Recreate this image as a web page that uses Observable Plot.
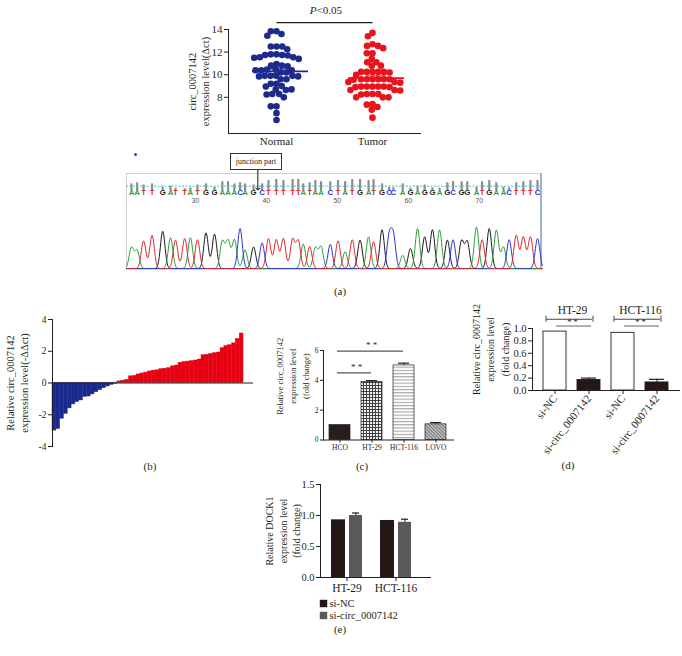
<!DOCTYPE html>
<html><head><meta charset="utf-8">
<script src="https://cdn.jsdelivr.net/npm/d3@7"></script>
<script src="https://cdn.jsdelivr.net/npm/@observablehq/plot@0.6"></script>
<style>
html,body{margin:0;padding:0;background:#fff;}
#root{position:relative;width:682px;height:656px;background:#fff;overflow:hidden;font-family:"Liberation Serif","Times New Roman",serif;color:#231f20;}
</style></head>
<body><div id="root"></div>
<script>
// ---------------- DATA ----------------
// (a) scatter: circ_0007142 expression level (Δct)
const scatterGroups = ["Normal", "Tumor"];
const normalValues = [13.85,13.85,13.6,13.45,12.5,12.5,12.5,12.25,11.8,11.8,11.75,11.75,11.7,
  11.55,11.55,11.5,11.4,10.95,10.8,10.8,10.75,10.45,10.45,10.4,10.4,10.4,10.2,10.2,
  9.9,9.9,9.9,9.9,9.85,9.85,9.6,9.6,9.2,9.2,9.0,8.95,8.7,8.65,8.7,8.3,8.3,8.25,8.0,7.2,7.2,6.6,6.0];
const tumorValues = [13.7,13.4,12.7,12.55,12.55,12.35,11.9,11.9,11.4,11.1,11.1,10.8,10.8,
  10.25,10.25,10.25,10.25,10.25,10.2,10.0,9.6,9.6,9.6,9.6,9.6,9.6,9.55,9.35,9.35,9.3,
  8.95,8.95,8.95,8.95,8.95,8.9,8.9,8.65,8.65,8.6,8.3,8.3,8.3,8.25,8.0,8.0,8.0,7.4,7.35,7.15,6.9,6.2];
const groupMeans = [10.3, 9.7];
const groupSEM = [0.2, 0.2];
const scatterColors = ["#1d2a8c", "#e8141c"];
const scatterTicks = [8, 10, 12, 14];
const scatterDomain = [4.8, 14];
const pValue = [{from: "Normal", to: "Tumor", y: 14.6, p: "P", rest: "<0.05"}];

// (a) Sanger chromatogram
const seqBases = "AATTGATTATGGAAACAGCTTTTTATAACTATGATGCCAGAGGAGCGGATGAACTTTC".split("");
const seqPositions = [21.0,21.8,22.7,23.9,25.4,26.5,27.2,28.5,29.3,30.3,
  31.5,32.7,33.8,34.6,35.5,36.3,37.0,38.2,39.4,40.3,
  41.4,42.4,43.7,44.5,45.2,46.1,46.9,47.7,49.0,50.1,
  51.1,52.1,53.2,54.4,55.1,56.3,57.3,57.9,59.2,60.3,
  61.3,62.3,63.4,64.4,65.5,66.3,67.5,68.3,69.6,70.4,
  71.4,72.4,73.4,74.2,75.2,76.2,77.2,78.2];
const peakHeights = [.52,.45,.69,.83,.93,.77,.71,.75,.77,.72,
  .89,.86,.68,.69,.72,1.0,.46,.54,.64,.75,
  .72,.75,.73,.69,.61,.55,.52,.54,.6,.69,
  .42,.72,.71,.79,.67,.97,.79,.79,.33,.5,
  1.0,.79,.97,.96,.71,.72,.69,.67,1.04,.72,
  1.0,.96,.54,.72,.83,.79,.79,.75];
const baseQuality = [30,35,25,30,15,20,10,8,12,25,
  30,15,40,40,30,35,30,25,30,45,
  50,45,50,50,30,35,45,40,40,45,
  40,50,50,45,50,30,15,12,30,10,
  20,25,12,10,35,40,40,40,15,40,
  45,35,15,12,35,40,45,45];
const qualityThreshold = 20;
const seqTicks = [30, 40, 50, 60, 70];
const traceDomain = [20.3, 78.9];
const junctionPosition = 38.8;
const junctionLabel = "junction part";
const baseColors = {A: "#2e9e3a", C: "#2b35d6", G: "#1a1a1a", T: "#e4262b"};

// (b) waterfall of -ΔΔct
const lowValues = [-3.0,-2.9,-2.25,-1.95,-1.6,-1.35,-1.2,-1.1,-0.88,-0.85,-0.72,-0.58,-0.45,-0.33,-0.22,-0.12,-0.05];
const highValues = [0.1,0.15,0.2,0.42,0.45,0.54,0.6,0.66,0.73,0.78,0.8,0.87,0.9,0.94,1.05,1.1,1.28,1.32,1.35,1.38,1.42,1.48,1.75,1.78,1.83,1.88,1.92,2.2,2.33,2.38,2.5,2.78,3.12];
const waterTicks = [-4, -2, 0, 2, 4];

// (c) cell lines
const cellLines = ["HCO", "HT-29", "HCT-116", "LOVO"];
const cellMeans = [1.0, 3.88, 5.0, 1.05];
const cellErr = [0, 0.1, 0.15, 0.12];
const cellTicks = [0, 2, 4, 6];
const cellSig = [{a: "HCO", b: "HT-29", y: 4.5, label: "* *"}, {a: "HCO", b: "HCT-116", y: 5.96, label: "* *"}];

// (d) knockdown
const kdGroups = ["HT-29", "HCT-116"];
const kdConds = ["si-NC", "si-circ_0007142"];
const kdValues = [[0.95, 0.17], [0.93, 0.13]];
const kdErr = [[0, 0.03], [0, 0.05]];
const kdTicks = [0, 0.2, 0.4, 0.6, 0.8, 1.0];
const kdAnn = {labelY: 1.29, bracketY: 1.15, starY: 1.095, lineY: 1.04, label: "* *"};

// (e) DOCK1
const dockValues = [[0.93, 1.0], [0.92, 0.89]];
const dockErr = [[0, 0.04], [0, 0.05]];
const dockTicks = [0, 0.5, 1.0, 1.5];
const condColors = ["#231815", "#5a5858"];

// ---------------- HELPERS ----------------
const INK = "#231f20";
const SERIF = '"Liberation Serif","Times New Roman",serif';
const SANS = '"Liberation Sans",Arial,sans-serif';
const root = document.getElementById("root");
function put(node, left, top) {
  node.style.position = "absolute"; node.style.left = left + "px"; node.style.top = top + "px";
  root.appendChild(node); return node;
}
function tag(text, cx, cy, css = "") {
  const d = document.createElement("div");
  d.textContent = text;
  d.style.cssText = `position:absolute;left:${cx}px;top:${cy}px;transform:translate(-50%,-50%);white-space:nowrap;font-size:11px;line-height:1;` + css;
  root.appendChild(d); return d;
}
const st = (fs, fam = SERIF) => ({fontFamily: fam, fontSize: fs + "px", background: "transparent", overflow: "visible", color: INK});
const yLabel = (text, opts) => Plot.text([text], {frameAnchor: "left", rotate: -90, textAnchor: "middle", lineAnchor: "middle", ...opts});

// ---------------- (a) scatter ----------------
const points = [
  ...normalValues.map(v => ({group: "Normal", value: v})),
  ...tumorValues.map(v => ({group: "Tumor", value: v}))
];
const colorOf = {Normal: scatterColors[0], Tumor: scatterColors[1]};
const meanRows = scatterGroups.map((g, i) => ({group: g, mean: groupMeans[i], sem: groupSEM[i], col: scatterColors[i]}));
const aDims = {width: 290, height: 150, marginLeft: 88, marginRight: 10, marginTop: 29, marginBottom: 17};

const figA2 = Plot.plot({
  ...aDims, style: st(11),
  fx: {domain: scatterGroups, padding: 0, axis: null, label: null},
  y: {domain: scatterDomain, axis: null},
  color: {type: "identity"},
  marks: [
    Plot.dot(points, Plot.dodgeX({anchor: "middle", padding: -0.9}, {fx: "group", y: "value", r: 3.3, fill: d => colorOf[d.group]}))
  ]
});
put(figA2, 140, 0);

const figA = Plot.plot({
  ...aDims, style: st(11),
  x: {type: "band", domain: scatterGroups, padding: 0, label: null},
  y: {domain: scatterDomain, label: null},
  color: {type: "identity"},
  marks: [
    Plot.frame({anchor: "left", stroke: INK}),
    Plot.frame({anchor: "bottom", stroke: INK}),
    Plot.axisY({ticks: scatterTicks, tickFormat: d3.format("d"), tickSize: 4, tickPadding: 2, label: null}),
    Plot.axisX({tickSize: 0, tickPadding: 4, label: null}),
    Plot.tickY(meanRows, {x: "group", y: "mean", stroke: "col", strokeWidth: 1.6, insetLeft: 24, insetRight: 16}),
    Plot.tickY(meanRows, {x: "group", y: d => d.mean + d.sem, stroke: "col", strokeWidth: 1, insetLeft: 42, insetRight: 34}),
    Plot.tickY(meanRows, {x: "group", y: d => d.mean - d.sem, stroke: "col", strokeWidth: 1, insetLeft: 42, insetRight: 34}),
    Plot.ruleX(meanRows, {x: "group", y1: d => d.mean - d.sem, y2: d => d.mean + d.sem, stroke: "col", dx: 4}),
    Plot.link(pValue, {x1: "from", x2: "to", y1: "y", y2: "y", stroke: INK, strokeWidth: 1.3}),
    Plot.text(pValue, {y: "y", text: "p", fontStyle: "italic", textAnchor: "end", dx: -8, dy: -12}),
    Plot.text(pValue, {y: "y", text: "rest", textAnchor: "start", dx: -8, dy: -12}),
    yLabel("circ_0007142\nexpression level(Δct)", {dx: -30, lineHeight: 1.25, fontSize: 10.5})
  ]
});
put(figA, 140, 0);

// ---------------- (a) chromatogram ----------------
const box = document.createElement("div");
box.style.cssText = "box-sizing:border-box;width:416px;height:97px;border:1px solid #cfcfcf;border-right:2px solid #9fb3cf;";
put(box, 126, 173);

const baseRows = seqBases.map((b, i) => ({base: b, pos: seqPositions[i], h: peakHeights[i], q: baseQuality[i], col: baseColors[b]}));
const chromX = {domain: traceDomain, axis: null};

const figStrip = Plot.plot({
  width: 430, height: 59, marginLeft: 6, marginRight: 8, marginTop: 29, marginBottom: 19,
  style: st(7.5, SANS),
  x: chromX,
  y: {domain: [0, 50], axis: null},
  color: {type: "identity"},
  marks: [
    Plot.ruleX(baseRows, {x: "pos", y1: 0, y2: "q", stroke: "#8c8c8c", strokeWidth: 2.2}),
    Plot.ruleY([qualityThreshold], {stroke: "#3fc2c6", strokeDasharray: "2,1.5", strokeWidth: 1}),
    Plot.text(baseRows, {x: "pos", text: "base", fill: "col", frameAnchor: "bottom", dy: 4.5, fontWeight: "bold", fontSize: 7.8}),
    Plot.text(seqTicks, {x: d => d, text: d => String(d), frameAnchor: "bottom", dy: 12.5, fill: "#555", fontSize: 7}),
    Plot.ruleX([junctionPosition], {stroke: "#111", strokeWidth: 1, insetTop: -9, insetBottom: 1, markerEnd: "arrow"})
  ]
});
put(figStrip, 120, 150);

const channels = ["G", "A", "C", "T"];
const xs = d3.range(traceDomain[0], traceDomain[1], 0.07);
const sigma = 0.32;
const traceRows = channels.flatMap(ch => {
  const pk = baseRows.filter(d => d.base === ch);
  return xs.map(x => ({ch, x, y: d3.sum(pk, d => d.h * Math.exp(-((x - d.pos) ** 2) / (2 * sigma * sigma))), col: baseColors[ch]}));
});
const figTrace = Plot.plot({
  width: 430, height: 55, marginLeft: 6, marginRight: 8, marginTop: 13, marginBottom: 2,
  style: st(8, SANS),
  x: chromX,
  y: {domain: [0, 1], axis: null},
  color: {type: "identity"},
  marks: [
    Plot.line(traceRows, {x: "x", y: "y", z: "ch", stroke: "col", strokeWidth: 1})
  ]
});
put(figTrace, 120, 215);

const jbox = document.createElement("div");
jbox.textContent = junctionLabel;
jbox.style.cssText = "box-sizing:border-box;width:52px;height:17px;border:1px solid #333;background:#fff;font-size:8px;line-height:15px;text-align:center;white-space:nowrap;";
put(jbox, 230, 153);
const dot = document.createElement("div");
dot.style.cssText = "width:3px;height:3px;border-radius:50%;background:#3b3bd0;";
put(dot, 134, 153);

// ---------------- (b) waterfall ----------------
const bRows = [
  ...lowValues.map(v => ({v, col: "#1a2a8c"})),
  ...highValues.map(v => ({v, col: "#e60012"}))
].map((d, i) => ({...d, i}));
const figB = Plot.plot({
  width: 265, height: 160, marginLeft: 52, marginRight: 12, marginTop: 19, marginBottom: 14,
  style: st(9.5),
  x: {type: "band", domain: bRows.map(d => d.i), padding: 0, axis: null, insetRight: 10},
  y: {domain: [-4, 4], label: null},
  color: {type: "identity"},
  marks: [
    Plot.barY(bRows, {x: "i", y: "v", fill: "col", stroke: "col", strokeWidth: 0.4}),
    Plot.ruleY([0], {stroke: INK}),
    Plot.frame({anchor: "left", stroke: INK}),
    Plot.axisY({ticks: waterTicks, tickSize: 4, tickPadding: 2, label: null, tickFormat: d => d < 0 ? "-" + (-d) : String(d)}),
    yLabel("Relative circ_0007142\nexpression level(-ΔΔct)", {dx: -36, lineHeight: 1.3, fontSize: 10.5})
  ]
});
put(figB, 0, 300);

// ---------------- (c) cell lines ----------------
const cRows = cellLines.map((c, i) => ({cell: c, mean: cellMeans[i], err: cellErr[i]}));
const cFills = ["#2b1d1b", "url(#pc-grid)", "url(#pc-horiz)", "url(#pc-diag)"];
const figC = Plot.plot({
  width: 210, height: 140, marginLeft: 68, marginRight: 12, marginTop: 25, marginBottom: 25.5,
  style: st(7.5),
  x: {domain: cellLines, paddingInner: 0.33, paddingOuter: 0.17, label: null},
  y: {domain: [0, 6], label: null},
  marks: [
    ...cellLines.map((c, i) => Plot.barY(cRows.filter(d => d.cell === c), {x: "cell", y: "mean", fill: cFills[i], stroke: INK, strokeWidth: 0.7})),
    Plot.ruleX(cRows.filter(d => d.err > 0), {x: "cell", y1: "mean", y2: d => d.mean + d.err, stroke: INK}),
    Plot.tickY(cRows.filter(d => d.err > 0), {x: "cell", y: d => d.mean + d.err, stroke: INK, strokeWidth: 1.2, insetLeft: 5, insetRight: 5}),
    Plot.frame({anchor: "left", stroke: INK}),
    Plot.frame({anchor: "bottom", stroke: INK}),
    Plot.axisY({ticks: cellTicks, tickFormat: d3.format("d"), tickSize: 3, tickPadding: 2, label: null}),
    Plot.axisX({tickSize: 3, tickPadding: 2, label: null}),
    Plot.ruleY(cellSig, {x1: "a", x2: "b", y: "y", stroke: "#555", strokeWidth: 1.2, insetLeft: 8, insetRight: 11}),
    Plot.text(cellSig.slice(0, 1), {x: "a", y: "y", text: "label", dx: 16.5, dy: -6, fontSize: 9}),
    Plot.text(cellSig.slice(1), {x: "a", y: "y", text: "label", dx: 31.7, dy: -6, fontSize: 9}),
    yLabel("Relative circ_0007142\nexpression level\n(fold change)", {dx: -31.5, dy: -19, lineHeight: 1.55, fontSize: 8.5})
  ]
});
figC.insertAdjacentHTML("afterbegin", `<defs>
<pattern id="pc-grid" width="3" height="3" patternUnits="userSpaceOnUse"><rect width="3" height="3" fill="#f2f2f2"/><path d="M0,0.5H3M0.5,0V3" stroke="#333" stroke-width="0.9"/></pattern>
<pattern id="pc-horiz" width="4" height="3.2" patternUnits="userSpaceOnUse"><rect width="4" height="3.2" fill="#fff"/><path d="M0,0.6H4" stroke="#9a9a9a" stroke-width="1"/></pattern>
<pattern id="pc-diag" width="2.4" height="2.4" patternUnits="userSpaceOnUse" patternTransform="rotate(45)"><rect width="2.4" height="2.4" fill="#c4c4c4"/><path d="M0,0.5H2.4" stroke="#6a6a6a" stroke-width="0.9"/></pattern>
</defs>`);
put(figC, 255, 325);

// ---------------- (d) knockdown ----------------
const dRows = kdGroups.flatMap((g, gi) => kdConds.map((c, ci) => ({
  key: g + "|" + c, group: g, cond: c, v: kdValues[gi][ci], err: kdErr[gi][ci], fill: ci ? "#231815" : "#ffffff"
})));
const dAnn = kdGroups.map(g => ({group: g, a: g + "|" + kdConds[0], b: g + "|" + kdConds[1], ...kdAnn}));
const figD = Plot.plot({
  width: 222, height: 170, marginLeft: 72, marginRight: 3, marginTop: 33, marginBottom: 75,
  style: st(10.5),
  x: {domain: dRows.map(d => d.key), paddingInner: 0.314, paddingOuter: 0.26, label: null},
  y: {domain: [0, 1], label: null},
  color: {type: "identity"},
  marks: [
    Plot.barY(dRows, {x: "key", y: "v", fill: "fill", stroke: INK, strokeWidth: 0.9}),
    Plot.ruleX(dRows.filter(d => d.err > 0), {x: "key", y1: "v", y2: d => d.v + d.err, stroke: INK}),
    Plot.tickY(dRows.filter(d => d.err > 0), {x: "key", y: d => d.v + d.err, stroke: INK, strokeWidth: 1.2, insetLeft: 4, insetRight: 4}),
    Plot.frame({anchor: "left", stroke: INK}),
    Plot.frame({anchor: "bottom", stroke: INK}),
    Plot.axisY({ticks: kdTicks, tickFormat: d3.format(".1f"), tickSize: 4, tickPadding: 2, label: null}),
    Plot.axisX({tickSize: 4, tickPadding: 2, tickRotate: -52, label: null, fontSize: 11, tickFormat: k => k.split("|")[1]}),
    Plot.text(dAnn, {x: "a", y: "labelY", text: "group", dx: 17.5, fontSize: 11.5}),
    Plot.ruleY(dAnn, {x1: "a", x2: "b", y: "bracketY", stroke: "#444", strokeWidth: 1.1, insetLeft: 3, insetRight: 8}),
    Plot.ruleX(dAnn, {x: "a", y1: "bracketY", y2: "bracketY", dx: -9, insetTop: -3, insetBottom: -3, stroke: "#444"}),
    Plot.ruleX(dAnn, {x: "b", y1: "bracketY", y2: "bracketY", dx: 4, insetTop: -3, insetBottom: -3, stroke: "#444"}),
    Plot.ruleY(dAnn, {x1: "a", x2: "b", y: "lineY", stroke: "#666", strokeWidth: 1, insetLeft: 13, insetRight: 9}),
    Plot.text(dAnn, {x: "a", y: "starY", text: "label", dx: 17.5, fontSize: 8.5}),
    yLabel("Relative circ_0007142\nexpression level\n(fold change)", {dx: -43, dy: -10, lineHeight: 1.45, fontSize: 10})
  ]
});
put(figD, 460, 295);

// ---------------- (e) DOCK1 ----------------
const eRows = kdGroups.flatMap((g, gi) => kdConds.map((c, ci) => ({group: g, cond: c, v: dockValues[gi][ci], err: dockErr[gi][ci], col: condColors[ci]})));
const figE = Plot.plot({
  width: 210, height: 125, marginLeft: 90, marginRight: 10, marginTop: 14, marginBottom: 18,
  style: st(10.5),
  x: {domain: kdGroups, paddingInner: 0.36, paddingOuter: 0.28, align: 0.36, label: null},
  y: {domain: [0, 1.5], label: null},
  color: {type: "identity"},
  marks: [
    Plot.barY(eRows.filter(d => d.cond === kdConds[0]), {x: "group", y: "v", fill: "col", insetRight: 17}),
    Plot.barY(eRows.filter(d => d.cond === kdConds[1]), {x: "group", y: "v", fill: "col", insetLeft: 18}),
    Plot.ruleX(eRows.filter(d => d.err > 0), {x: "group", y1: "v", y2: d => d.v + d.err, stroke: INK, dx: 9}),
    Plot.tickY(eRows.filter(d => d.err > 0), {x: "group", y: d => d.v + d.err, stroke: INK, strokeWidth: 1.2, insetLeft: 21, insetRight: 3}),
    Plot.frame({anchor: "left", stroke: INK}),
    Plot.frame({anchor: "bottom", stroke: INK}),
    Plot.axisY({ticks: dockTicks, tickFormat: d3.format(".1f"), tickSize: 4, tickPadding: 2, label: null}),
    Plot.axisX({tickSize: 4, tickPadding: 2, label: null, fontSize: 11.5}),
    yLabel("Relative DOCK1\nexpression level\n(fold change)", {dx: -38, lineHeight: 1.35, fontSize: 10})
  ]
});
put(figE, 230, 470);

const legRows = kdConds.map((c, i) => ({label: c, col: condColors[i]}));
const figLeg = Plot.plot({
  width: 110, height: 24, marginLeft: 0, marginRight: 0, marginTop: 0, marginBottom: 0,
  style: st(10.5),
  y: {type: "band", domain: kdConds, axis: null, padding: 0},
  color: {type: "identity"},
  marks: [
    Plot.dot(legRows, {y: "label", frameAnchor: "left", dx: 5, symbol: "square", r: 4.2, fill: "col"}),
    Plot.text(legRows, {y: "label", text: "label", frameAnchor: "left", dx: 11, textAnchor: "start"})
  ]
});
put(figLeg, 318, 597);

// ---------------- panel tags ----------------
tag("(a)", 340, 291);
tag("(b)", 150, 466);
tag("(c)", 362, 466);
tag("(d)", 568, 465);
tag("(e)", 340, 629);
</script></body></html>
